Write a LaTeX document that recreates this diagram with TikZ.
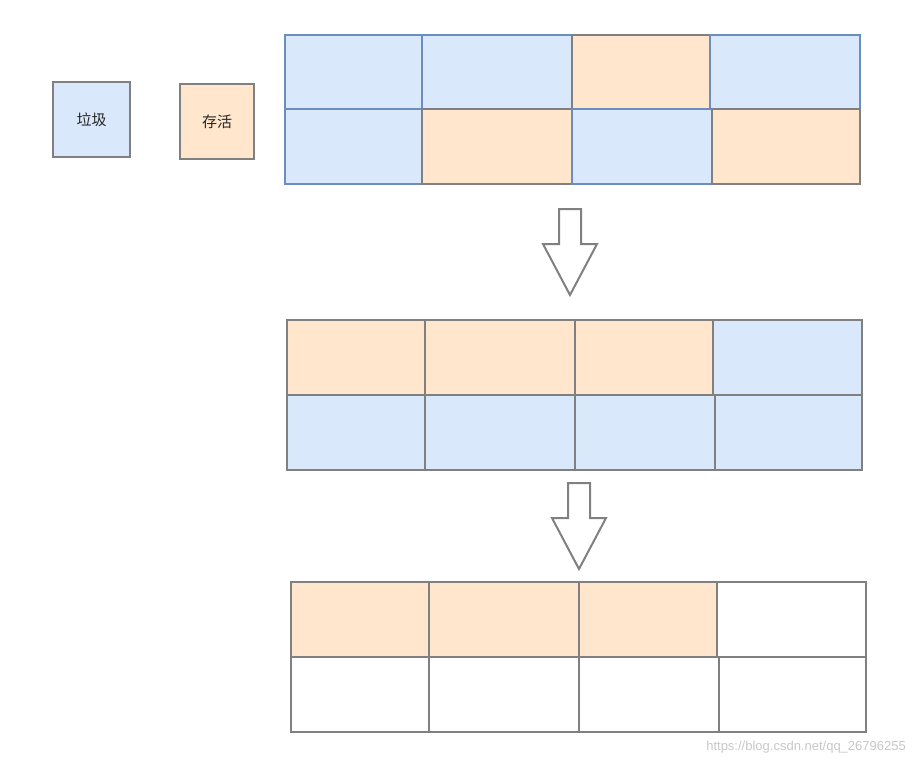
\documentclass[tikz,border=0pt]{standalone}
\usepackage{fontspec}
\usetikzlibrary{positioning}
\newfontfamily\cjkfont{Noto Sans CJK SC}
\newfontfamily\wmfont{Liberation Sans}
\definecolor{garbfill}{HTML}{DAE8FC}
\definecolor{garbline}{HTML}{6C8EBF}
\definecolor{livefill}{HTML}{FFE6CC}
\definecolor{cellline}{HTML}{808080}
\tikzset{
  cell/.style={draw=cellline, line width=2pt, inner sep=0pt, outer sep=0pt,
    minimum height=75pt, anchor=north west},
  garb/.style={cell, fill=garbfill, draw=garbline},
  garbgray/.style={cell, fill=garbfill},
  live/.style={cell, fill=livefill},
  free/.style={cell, fill=white},
  downarrow/.pic={
    \draw[cellline, line width=2pt, fill=white]
      (-11,0) -- (11,0) -- (11,35) -- (27,35) -- (0,86) -- (-27,35) -- (-11,35) -- cycle;
  }
}
\begin{document}
\begin{tikzpicture}[x=1pt, y=-1pt, font=\cjkfont\fontsize{15}{18}\selectfont, text=black!85]
          \useasboundingbox (0,0) rectangle (915,766);
          % legend
          \node[garbgray, minimum width=77pt] (garbage) at (53,82) {垃圾};
          \node[live, minimum width=74pt] (alive) at (180,84) {存活};
          % before collection
          \node[garb, minimum width=137pt, minimum height=74pt] (a1) at (285,35) {};
          \node[garb, minimum width=150pt, minimum height=74pt, right=0pt of a1] (a2) {};
          \node[live, minimum width=138pt, minimum height=74pt, right=0pt of a2] (a3) {};
          \node[garb, minimum width=150pt, minimum height=74pt, right=0pt of a3] (a4) {};
          \node[garb, minimum width=137pt, below=0pt of a1] (b1) {};
          \node[live, minimum width=150pt, right=0pt of b1] (b2) {};
          \node[garb, minimum width=140pt, right=0pt of b2] (b3) {};
          \node[live, minimum width=148pt, right=0pt of b3] (b4) {};
          % first arrow
          \pic at (570,209) {downarrow};
          % after marking and moving
          \node[live, minimum width=138pt] (c1) at (287,320) {};
          \node[live, minimum width=150pt, right=0pt of c1] (c2) {};
          \node[live, minimum width=138pt, right=0pt of c2] (c3) {};
          \node[garbgray, minimum width=149pt, right=0pt of c3] (c4) {};
          \node[garbgray, minimum width=138pt, below=0pt of c1] (d1) {};
          \node[garbgray, minimum width=150pt, right=0pt of d1] (d2) {};
          \node[garbgray, minimum width=140pt, right=0pt of d2] (d3) {};
          \node[garbgray, minimum width=147pt, right=0pt of d3] (d4) {};
          % second arrow
          \pic at (579,483) {downarrow};
          % after clearing
          \node[live, minimum width=138pt] (e1) at (291,582) {};
          \node[live, minimum width=150pt, right=0pt of e1] (e2) {};
          \node[live, minimum width=138pt, right=0pt of e2] (e3) {};
          \node[free, minimum width=149pt, right=0pt of e3] (e4) {};
          \node[free, minimum width=138pt, below=0pt of e1] (f1) {};
          \node[free, minimum width=150pt, right=0pt of f1] (f2) {};
          \node[free, minimum width=140pt, right=0pt of f2] (f3) {};
          \node[free, minimum width=147pt, right=0pt of f3] (f4) {};
          % watermark
          \node[anchor=south east, inner sep=0pt, text=black!22, font=\wmfont\fontsize{13}{15}\selectfont] (mark) at (906,753) {https://blog.csdn.net/qq\_26796255};
        \end{tikzpicture}
\end{document}
